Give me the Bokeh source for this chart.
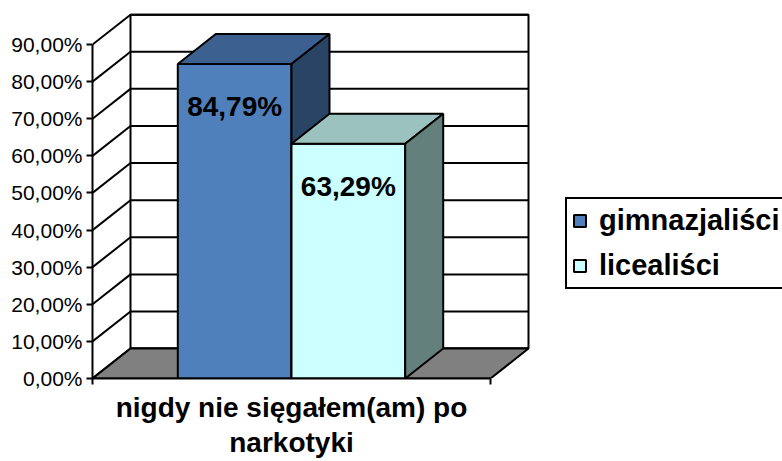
from bokeh.plotting import figure
from bokeh.models import Range1d, FixedTicker, Legend, LegendItem
from bokeh.core.properties import value
from bokeh.embed import file_html
from bokeh.resources import INLINE

# ---------------- data ----------------
categories = ["nigdy nie sięgałem(am) po\nnarkotyki"]
series_names = ["gimnazjaliści", "licealiści"]
series_values = [84.79, 63.29]
yticks = [0, 10, 20, 30, 40, 50, 60, 70, 80, 90]
ytick_labels = ["0,00%", "10,00%", "20,00%", "30,00%", "40,00%",
                "50,00%", "60,00%", "70,00%", "80,00%", "90,00%"]

# ---------------- styles ----------------
FONT = "Liberation Sans"
front_colors = ["#4F80BC", "#CCFFFF"]
top_colors = ["#3C6190", "#9CC2C0"]
side_colors = ["#2A4466", "#64807D"]
FLOOR = "#808080"
LW = 2

W, H = 782, 461
FRAME_L, FRAME_T, FRAME_B = 92, 0, 82
PX_PER_PCT = 3.72          # vertical scale (px per percent)
PX_PER_CAT = 398           # horizontal scale (px per category width)
DEPTH_PX = (38, 30)        # oblique depth offset in px
GAP = 1.5                  # gap width (150 %) relative to bar width

frame_w = W - FRAME_L
frame_h = H - FRAME_T - FRAME_B
DX = DEPTH_PX[0] / PX_PER_CAT
DY = DEPTH_PX[1] / PX_PER_PCT
ymax = max(yticks)

p = figure(width=W, height=H, output_backend="svg", toolbar_location=None,
           x_range=Range1d(0, frame_w / PX_PER_CAT),
           y_range=Range1d(0, frame_h / PX_PER_PCT),
           min_border_left=FRAME_L, min_border_right=0,
           min_border_top=FRAME_T, min_border_bottom=FRAME_B)
p.outline_line_color = None
p.grid.visible = False
p.background_fill_color = "white"
p.border_fill_color = "white"

# back wall + gridlines
p.quad(left=DX, right=1 + DX, bottom=DY, top=ymax + DY,
       fill_color="white", line_color="black", line_width=LW)
p.segment(x0=[DX] * len(yticks), y0=[t + DY for t in yticks],
          x1=[1 + DX] * len(yticks), y1=[t + DY for t in yticks],
          line_color="black", line_width=LW)
# side wall diagonals
p.segment(x0=[0] * len(yticks), y0=yticks,
          x1=[DX] * len(yticks), y1=[t + DY for t in yticks],
          line_color="black", line_width=LW)
# floor
p.patch([0, 1, 1 + DX, DX], [0, 0, DY, DY],
        fill_color=FLOOR, line_color="black", line_width=LW)

# bars
n = len(series_values)
bw = 1.0 / (n + GAP)
x_start = GAP * bw / 2
fronts = []
centers = []
for i, v in enumerate(series_values):
    x0 = x_start + i * bw
    x1 = x0 + bw
    fr = p.quad(left=x0, right=x1, bottom=0, top=v,
                fill_color=front_colors[i], line_color="black", line_width=LW)
    p.patch([x0, x1, x1 + DX, x0 + DX], [v, v, v + DY, v + DY],
            fill_color=top_colors[i], line_color="black", line_width=LW)
    p.patch([x1, x1 + DX, x1 + DX, x1], [0, DY, v + DY, v],
            fill_color=side_colors[i], line_color="black", line_width=LW)
    fronts.append(fr)
    centers.append((x0 + x1) / 2)

value_labels = [("%.2f" % v).replace(".", ",") + "%" for v in series_values]
p.text(x=centers, y=series_values, text=value_labels,
       text_font=value(FONT), text_font_style="bold", text_font_size="28px",
       text_align="center", text_baseline="middle", y_offset=43,
       text_color="black")

# y axis
ya = p.yaxis[0]
ya.ticker = FixedTicker(ticks=yticks, minor_ticks=[])
ya.major_label_overrides = {t: l for t, l in zip(yticks, ytick_labels)}
ya.bounds = (0, ymax)
ya.axis_line_width = LW
ya.major_tick_line_width = LW
ya.major_tick_in = 0
ya.major_tick_out = 6
ya.major_label_standoff = 4
ya.major_label_text_font = FONT
ya.major_label_text_font_size = "21px"
ya.major_label_text_color = "black"

# x axis: category label at the centre, boundary ticks at 0 and 1
xa = p.xaxis[0]
xa.ticker = FixedTicker(ticks=[0.5], minor_ticks=[0, 1])
xa.major_label_overrides = {0.5: categories[0]}
xa.bounds = (0, 1)
xa.axis_line_width = LW
xa.major_tick_in = 0
xa.major_tick_out = 0
xa.minor_tick_in = 0
xa.minor_tick_out = 6
xa.minor_tick_line_width = LW
xa.minor_tick_line_color = "black"
xa.major_label_standoff = 7
xa.major_label_text_font = FONT
xa.major_label_text_font_style = "bold"
xa.major_label_text_font_size = "28px"
xa.major_label_text_line_height = 1.15
xa.major_label_text_color = "black"

# legend
legend = Legend(items=[LegendItem(label=nm, renderers=[r])
                       for nm, r in zip(series_names, fronts)],
                location=(473, 89), orientation="vertical",
                label_text_font=FONT, label_text_font_style="bold",
                label_text_font_size="29px", label_text_color="black",
                glyph_width=15, glyph_height=15, label_standoff=12,
                padding=5, spacing=12, margin=0,
                border_line_color="black", border_line_width=LW,
                border_line_alpha=1,
                background_fill_color="white", background_fill_alpha=1)
p.add_layout(legend)

open("out.html", "w").write(file_html(p, INLINE))
